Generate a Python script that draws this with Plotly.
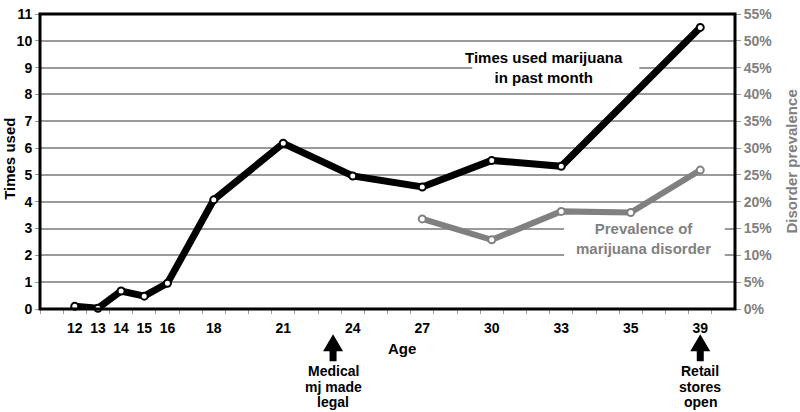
import plotly.graph_objects as go

# ---- data ----
ages = ["12", "13", "14", "15", "16", "18", "21", "24", "27", "30", "33", "35", "39"]
age_pos = [1, 2, 3, 4, 5, 7, 10, 13, 16, 19, 22, 25, 28]
times_used = [0.1, 0.03, 0.67, 0.48, 0.96, 4.07, 6.18, 4.96, 4.55, 5.54, 5.32, None, 10.5]
disorder_prev = [None, None, None, None, None, None, None, None, 0.168, 0.129, 0.182, 0.180, 0.259]

FONT = "Liberation Sans, Arial, sans-serif"
GRAY = "#808080"
GRID = "#9a9a9a"

fig = go.Figure()
fig.add_trace(go.Scatter(
    x=age_pos, y=times_used, mode="lines+markers", connectgaps=True,
    line=dict(color="black", width=7),
    marker=dict(size=7, color="white", line=dict(color="black", width=2)),
    showlegend=False, cliponaxis=False))
fig.add_trace(go.Scatter(
    x=age_pos, y=disorder_prev, mode="lines+markers", connectgaps=False, yaxis="y2",
    line=dict(color=GRAY, width=6),
    marker=dict(size=7, color="white", line=dict(color=GRAY, width=2)),
    showlegend=False, cliponaxis=False))

minor_vals = [i - 0.5 for i in range(0, 30)]

fig.update_layout(
    width=800, height=412,
    margin=dict(l=40, r=65, t=6, b=103),
    paper_bgcolor="white", plot_bgcolor="white",
    font=dict(family=FONT, size=14, color="black"),
    xaxis=dict(range=[-0.5, 29.5], tickmode="array", tickvals=age_pos, ticktext=ages,
               ticks="outside", ticklen=6, tickcolor="rgba(0,0,0,0)",
               tickfont=dict(family=FONT, size=14, color="black", weight="bold"),
               minor=dict(tickmode="array", tickvals=minor_vals, ticks="outside",
                          ticklen=4, tickcolor=GRID, showgrid=False),
               showgrid=False, zeroline=False, showline=False, fixedrange=True),
    yaxis=dict(range=[0, 11], tickmode="linear", tick0=0, dtick=1,
               ticks="outside", ticklen=4, tickcolor=GRID,
               tickfont=dict(family=FONT, size=14, color="black", weight="bold"),
               ticklabeloverflow="allow",
               showgrid=True, gridcolor=GRID, gridwidth=1.5,
               zeroline=False, showline=False),
    yaxis2=dict(range=[0, 0.55], tickmode="linear", tick0=0, dtick=0.05, tickformat=".0%",
                overlaying="y", side="right",
                ticks="outside", ticklen=5, tickcolor=GRID,
                tickfont=dict(family=FONT, size=14, color=GRAY, weight="bold"),
                ticklabeloverflow="allow",
                showgrid=False, zeroline=False, showline=False),
)

# plot frame
fig.add_shape(type="rect", xref="paper", yref="paper", x0=0, x1=1, y0=0, y1=1,
              line=dict(color="black", width=3), layer="above")

# white label backgrounds that break the gridlines (between grid and traces)
fig.add_shape(type="rect", xref="x", yref="y", x0=18.16, x1=25.37, y0=8.7, y1=9.3,
              fillcolor="white", line=dict(width=0), layer="between")
fig.add_shape(type="rect", xref="x", yref="y", x0=22.12, x1=29.06, y0=1.8, y1=3.2,
              fillcolor="white", line=dict(width=0), layer="between")

# block arrows (pixel-sized paths anchored under the axis)
arrow_path = "M0,0 L10,-17 L3.5,-17 L3.5,-27 L-3.5,-27 L-3.5,-17 L-10,-17 Z"
for xa in [12.15, 28]:
    fig.add_shape(type="path", xref="x", yref="paper", xsizemode="pixel", ysizemode="pixel",
                  xanchor=xa, yanchor=-0.0858, path=arrow_path,
                  fillcolor="black", line=dict(color="black", width=0))

def ann(text, x, y, xref="x", yref="paper", color="black", size=15, **kw):
    fig.add_annotation(text=text, x=x, y=y, xref=xref, yref=yref, showarrow=False,
                       font=dict(family=FONT, size=size, color=color, weight="bold"),
                       xanchor="center", yanchor="middle", **kw)

# in-plot labels
ann("Times used marijuana<br>in past month", 21.25, 9.01, yref="y")
ann("Prevalence of<br>marijuana disorder", 25.57, 2.64, yref="y", color=GRAY)

# axis titles
ann("Age", 15.12, -0.135)
ann("Times used", -0.045, 0.508, xref="paper", textangle=-90)
ann("Disorder prevalence", 1.0806, 0.5, xref="paper", color=GRAY, textangle=-90)

# event labels
event_y = [-0.2112, -0.2640, -0.3168]
for t, yy in zip(["Medical", "mj made", "legal"], event_y):
    ann(t, 12.15, yy, size=14)
for t, yy in zip(["Retail", "stores", "open"], event_y):
    ann(t, 28, yy, size=14)

fig.write_html("out.html", config={"displayModeBar": False},
               post_script="document.body.style.margin='0';document.body.style.overflow='hidden';")
